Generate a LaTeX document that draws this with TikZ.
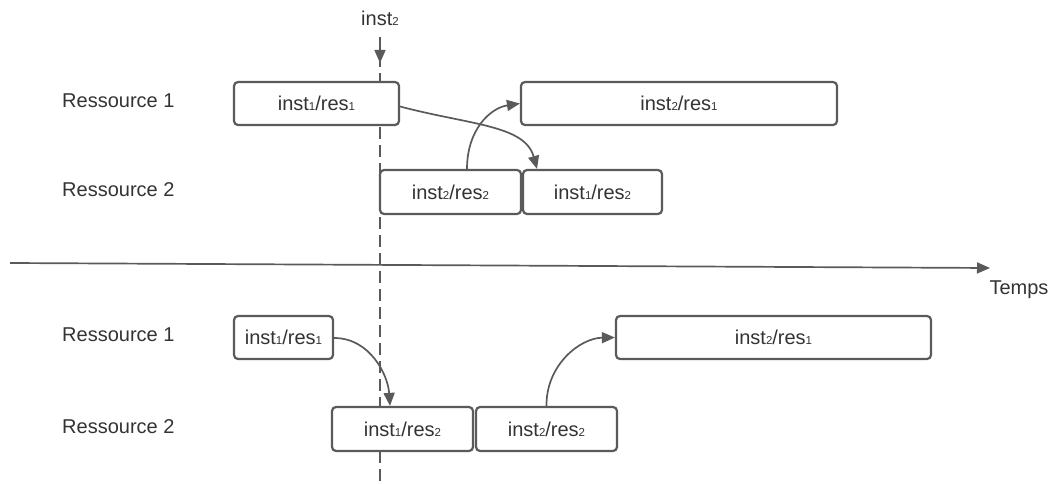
\documentclass[tikz,border=0pt]{standalone}
\usepackage{fontspec}
\setmainfont{Liberation Sans}
\usetikzlibrary{arrows.meta}
\definecolor{ln}{HTML}{5A5A5A}
\definecolor{tx}{HTML}{333333}
\newcommand\sbn[1]{{\fontsize{11.5}{11.5}\selectfont #1}}
\tikzset{
  task/.style={draw=ln, line width=2.2pt, rounded corners=4pt, fill=white, inner sep=0pt, text=tx, font=\fontsize{20}{23}\selectfont},
  lbl/.style={text=tx, font=\fontsize{20}{23}\selectfont, inner sep=0pt},
  conn/.style={draw=ln, line width=1.7pt, -{Triangle[length=13pt,width=11pt]}},
}
\begin{document}
\begin{tikzpicture}[x=1pt,y=-1pt]
\useasboundingbox (0,0) rectangle (1050,484);
% inst2 marker
\node[lbl] (mk) at (380,18) {inst\sbn{2}};
\coordinate (d0) at (380,37);
\coordinate (d1) at (380,63);
\coordinate (d2) at (380,484);
\draw[ln, line width=1.7pt, dash pattern=on 12pt off 6pt] (d0) -- (d2);
\draw[conn] (d0) -- (d1);
% axis
\coordinate (ax0) at (10,263);
\coordinate (ax1) at (990,268);
\draw[conn] (ax0) -- (ax1);
\node[lbl, anchor=north] (temps) at (1019,281) {Temps};
% labels
\node[lbl, anchor=west] (r1a) at (62,101) {Ressource 1};
\node[lbl, anchor=west] (r2a) at (62,190) {Ressource 2};
\node[lbl, anchor=west] (r1b) at (62,335) {Ressource 1};
\node[lbl, anchor=west] (r2b) at (62,427) {Ressource 2};
% top boxes
\node[task, minimum width=165pt, minimum height=43pt] (a1) at (316.5,103.5) {inst\sbn{1}/res\sbn{1}};
\node[task, minimum width=316pt, minimum height=43pt] (a2) at (679,103.5) {inst\sbn{2}/res\sbn{1}};
\node[task, minimum width=141pt, minimum height=44pt] (b1) at (450.5,192) {inst\sbn{2}/res\sbn{2}};
\node[task, minimum width=139pt, minimum height=44pt] (b2) at (592.5,192) {inst\sbn{1}/res\sbn{2}};
% bottom boxes
\node[task, minimum width=99pt, minimum height=43pt] (c1) at (283.5,337.5) {inst\sbn{1}/res\sbn{1}};
\node[task, minimum width=315pt, minimum height=43pt] (c2) at (773.5,337.5) {inst\sbn{2}/res\sbn{1}};
\node[task, minimum width=141pt, minimum height=44pt] (d1b) at (402.5,429) {inst\sbn{1}/res\sbn{2}};
\node[task, minimum width=141pt, minimum height=44pt] (d2b) at (546.5,429) {inst\sbn{2}/res\sbn{2}};
% connectors
\draw[conn] (a1.east) ++(0,3) .. controls (470,125) and (525,125) .. (b2.north west -| 537,170);
\draw[conn] (b1.north -| 467,170) .. controls (467,130) and (490,108) .. (a2.west);
\draw[conn] (c1.east) ++(0,0.5) .. controls (370,338) and (388,375) .. (d1b.north -| 390,407);
\draw[conn] (d2b.north) .. controls (546,365) and (580,338) .. (c2.west);
\end{tikzpicture}
\end{document}
